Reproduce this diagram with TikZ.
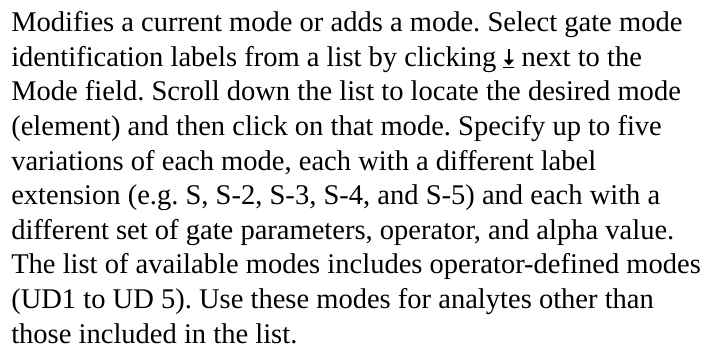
\documentclass[tikz,border=0pt]{standalone}
\usepackage{fontspec}
\setmainfont{Liberation Serif}
\usepackage{tikz}
\frenchspacing

% small arrow-to-bar glyph used in the second line
\newcommand{\arrowtobar}{\tikz[baseline=0pt,x=1pt,y=1pt]{%
\fill (3.5,4.5) rectangle (4.8,12.6);
\fill (0.3,5.0) -- (8.0,5.0) -- (4.15,0.7) -- cycle;
\fill (0.0,-1.6) rectangle (8.3,-0.2);}}

\tikzset{txtline/.style={anchor=base west,inner sep=0pt,font=\fontsize{21.4}{25}\selectfont}}

\begin{document}
\begin{tikzpicture}[x=0.75pt,y=0.75pt,yscale=-1,xscale=1]
\useasboundingbox (0,0) rectangle (711,348);

% Text Nodes
\node (l1) [txtline] at (11,31.7) {Modifies a current mode or adds a mode. Select gate mode};
\node (l2) [txtline] at (11,66.3) {identification labels from a list by clicking \arrowtobar\ next to the};
\node (l3) [txtline] at (11,100.9) {Mode field. Scroll down the list to locate the desired mode};
\node (l4) [txtline] at (11,135.5) {(element) and then click on that mode. Specify up to five};
\node (l5) [txtline] at (11,170.1) {variations of each mode, each with a different label};
\node (l6) [txtline] at (11,204.7) {extension (e.g. S, S-2, S-3, S-4, and S-5) and each with a};
\node (l7) [txtline] at (11,239.3) {different set of gate parameters, operator, and alpha value.};
\node (l8) [txtline] at (11,273.9) {The list of available modes includes operator-defined modes};
\node (l9) [txtline] at (11,308.5) {(UD1 to UD 5). Use these modes for analytes other than};
\node (l10) [txtline] at (11,343.1) {those included in the list.};

\end{tikzpicture}
\end{document}
